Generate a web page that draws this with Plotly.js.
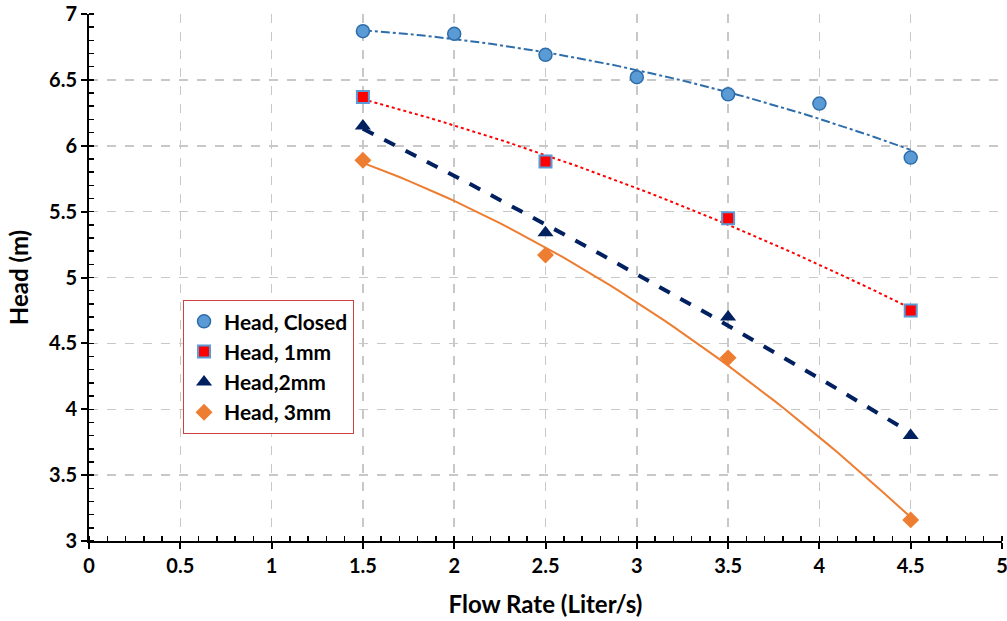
<!DOCTYPE html>
<html><head><meta charset="utf-8">
<script src="https://cdn.plot.ly/plotly-3.0.1.min.js"></script>
<style>body{margin:0;background:#fff}#chart{width:1007px;height:621px}</style>
</head><body><div id="chart"></div>
<script>
const xClosed = [1.5, 2, 2.5, 3, 3.5, 4, 4.5];
const headClosed = [6.87, 6.85, 6.69, 6.52, 6.39, 6.32, 5.91];
const xOpen = [1.5, 2.5, 3.5, 4.5];
const head1mm = [6.37, 5.88, 5.45, 4.75];
const head2mm = [6.15, 5.34, 4.70, 3.80];
const head3mm = [5.89, 5.17, 4.39, 3.16];
const names = ['Head, Closed', 'Head, 1mm', 'Head,2mm', 'Head, 3mm'];

// quadratic least-squares trendline (like a spreadsheet polynomial trendline)
function polyfit2(xs, ys) {
  let S = [0,0,0,0,0], T = [0,0,0];
  for (let i = 0; i < xs.length; i++) {
    let p = 1;
    for (let k = 0; k < 5; k++) { S[k] += p; if (k < 3) T[k] += p * ys[i]; p *= xs[i]; }
  }
  const A = [[S[0],S[1],S[2],T[0]],[S[1],S[2],S[3],T[1]],[S[2],S[3],S[4],T[2]]];
  for (let c = 0; c < 3; c++) {
    for (let r = c+1; r < 3; r++) {
      const f = A[r][c] / A[c][c];
      for (let k = c; k < 4; k++) A[r][k] -= f * A[c][k];
    }
  }
  const b = [0,0,0];
  for (let r = 2; r >= 0; r--) {
    let s = A[r][3];
    for (let k = r+1; k < 3; k++) s -= A[r][k] * b[k];
    b[r] = s / A[r][r];
  }
  return b;
}
function trend(xs, ys) {
  const b = polyfit2(xs, ys);
  const x0 = Math.min(...xs), x1 = Math.max(...xs);
  const tx = [], ty = [];
  for (let i = 0; i <= 60; i++) {
    const x = x0 + (x1 - x0) * i / 60;
    tx.push(x); ty.push(b[0] + b[1]*x + b[2]*x*x);
  }
  return {x: tx, y: ty};
}

const tC = trend(xClosed, headClosed), t1 = trend(xOpen, head1mm),
      t2 = trend(xOpen, head2mm), t3 = trend(xOpen, head3mm);

const traces = [
  {x: tC.x, y: tC.y, mode: 'lines', line: {color: '#2E6DAA', width: 2, dash: 'dashdot'}, showlegend: false, hoverinfo: 'skip'},
  {x: t1.x, y: t1.y, mode: 'lines', line: {color: '#FF0000', width: 2, dash: 'dot'}, showlegend: false, hoverinfo: 'skip'},
  {x: t2.x, y: t2.y, mode: 'lines', line: {color: '#002060', width: 4, dash: 'dash'}, showlegend: false, hoverinfo: 'skip'},
  {x: t3.x, y: t3.y, mode: 'lines', line: {color: '#ED7D31', width: 2}, showlegend: false, hoverinfo: 'skip'},
  {x: xClosed, y: headClosed, name: names[0], mode: 'markers',
   marker: {symbol: 'circle', size: 13, color: '#5B9BD5', line: {color: '#2E6DAA', width: 1.5}}},
  {x: xOpen, y: head1mm, name: names[1], mode: 'markers',
   marker: {symbol: 'square', size: 12, color: '#FF0000', line: {color: '#5B9BD5', width: 2}}},
  {x: xOpen, y: head2mm, name: names[2], mode: 'markers',
   marker: {symbol: 'triangle-up', size: 14, color: '#002060', line: {width: 0}}},
  {x: xOpen, y: head3mm, name: names[3], mode: 'markers',
   marker: {symbol: 'diamond', size: 13, color: '#ED7D31', line: {width: 0}}}
];

const fam = 'Lato, "Liberation Sans", sans-serif';
const axisFont = {family: fam, size: 20, color: '#000', weight: 'bold'};
const titleFont = {family: fam, size: 24, color: '#000', weight: 'bold'};
const layout = {
  width: 1007, height: 621,
  margin: {l: 89, r: 5, t: 14, b: 80},
  paper_bgcolor: '#fff', plot_bgcolor: '#fff',
  font: {family: fam, color: '#000'},
  xaxis: {
    range: [0, 5], dtick: 0.5, tick0: 0,
    showline: true, linecolor: '#000', linewidth: 2,
    ticks: 'outside', ticklen: 6, tickwidth: 2, tickcolor: '#000',
    minor: {dtick: 0.1, ticks: 'inside', ticklen: 5, tickwidth: 1.5, tickcolor: '#000', showgrid: false},
    showgrid: true, gridcolor: '#C8C8C8', griddash: 'dash', gridwidth: 1.5,
    zeroline: false, ticklabeloverflow: 'allow',
    tickfont: axisFont,
    title: {text: 'Flow Rate (Liter/s)', font: titleFont, standoff: 20}
  },
  yaxis: {
    range: [3, 7], dtick: 0.5, tick0: 3,
    showline: true, linecolor: '#000', linewidth: 2,
    ticks: 'outside', ticklen: 6, tickwidth: 2, tickcolor: '#000',
    minor: {dtick: 0.1, ticks: 'inside', ticklen: 5, tickwidth: 1.5, tickcolor: '#000', showgrid: false},
    showgrid: true, gridcolor: '#C8C8C8', griddash: 'dash', gridwidth: 1.5,
    zeroline: false, ticklabeloverflow: 'allow',
    tickfont: axisFont,
    title: {text: 'Head (m)', font: titleFont, standoff: 14}
  },
  legend: {
    x: 0.103, y: 0.457, xanchor: 'left', yanchor: 'top',
    bgcolor: '#fff', bordercolor: '#D04040', borderwidth: 1,
    font: {family: fam, size: 21, color: '#000', weight: 'bold'},
    tracegroupgap: 0
  },
  showlegend: true
};

Plotly.newPlot('chart', traces, layout, {displayModeBar: false, staticPlot: true});
</script>
</body></html>
